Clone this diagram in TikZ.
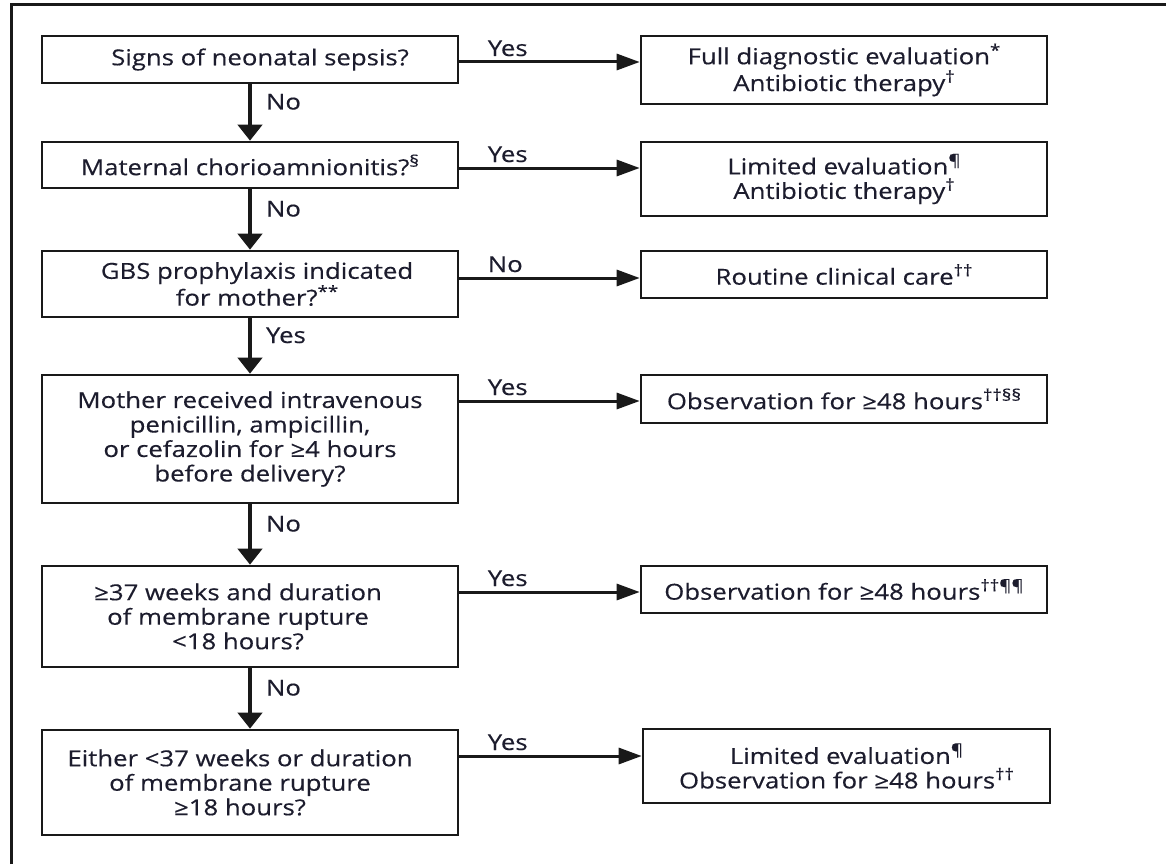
\documentclass[tikz,border=0pt]{standalone}
\usepackage{fontspec}
\setmainfont[FakeStretch=1.17,FakeBold=0.35]{Open Sans}
\usetikzlibrary{arrows.meta}
\definecolor{txt}{RGB}{28,28,45}
\newcommand{\sps}[1]{\raisebox{0.38em}{\fontsize{16}{16}\selectfont #1}}
\begin{document}
\begin{tikzpicture}[x=1pt,y=-1pt,
  every node/.style={font=\fontsize{22}{24.5}\selectfont, text=txt},
  qbox/.style={draw=black!90, line width=2.6pt, inner sep=0pt, align=center, minimum width=416pt},
  abox/.style={draw=black!90, line width=2.6pt, inner sep=0pt, align=center, minimum width=406pt},
  varr/.style={line width=4pt, draw=black!90, -{Triangle[length=16pt,width=24pt]}},
  harr/.style={line width=3pt, draw=black!90, -{Triangle[length=23pt,width=16pt]}},
  vlab/.style={anchor=base west, inner sep=0pt, xshift=14pt, yshift=3pt},
  hlab/.style={pos=0, anchor=base west, inner sep=0pt, xshift=27pt, yshift=6pt}]
\useasboundingbox (0,0) rectangle (1166,864);
\fill[white] (0,0) rectangle (1166,864);
% outer frame
\draw[line width=3pt, black!90] (11,864) -- (11,5) -- (1166,5);

% question boxes
\node[qbox, minimum height=47pt]  (q1) at (250,59.5) {\hspace*{20pt}Signs of neonatal sepsis?};
\node[qbox, minimum height=46pt]  (q2) at (250,165)  {Maternal chorioamnionitis?\sps{§}};
\node[qbox, minimum height=66pt]  (q3) at (250,284)  {\hspace*{14pt}GBS prophylaxis indicated\\\hspace*{14pt}for mother?\sps{**}};
\node[qbox, minimum height=128pt] (q4) at (250,439)  {Mother received intravenous\\penicillin, ampicillin,\\or cefazolin for ≥4 hours\\before delivery?};
\node[qbox, minimum height=101pt] (q5) at (250,616.5) {\hspace*{-24pt}≥37 weeks and duration\\\hspace*{-24pt}of membrane rupture\\\hspace*{-24pt}<18 hours?};
\node[qbox, minimum height=105pt] (q6) at (250,782.5) {\hspace*{-20pt}Either <37 weeks or duration\\\hspace*{-20pt}of membrane rupture\\\hspace*{-20pt}≥18 hours?};

% action boxes
\node[abox, minimum height=68pt] (a1) at (844,70)    {Full diagnostic evaluation\sps{*}\\Antibiotic therapy\sps{†}};
\node[abox, minimum height=74pt] (a2) at (844,179)   {Limited evaluation\sps{¶}\\Antibiotic therapy\sps{†}};
\node[abox, minimum height=47pt] (a3) at (844,274.5) {Routine clinical care\sps{††}};
\node[abox, minimum height=48pt] (a4) at (844,399)   {Observation for ≥48 hours\sps{††§§}};
\node[abox, minimum height=47pt] (a5) at (844,589.5) {Observation for ≥48 hours\sps{††¶¶}};
\node[abox, minimum height=74pt, minimum width=407pt] (a6) at (846.5,766) {Limited evaluation\sps{¶}\\Observation for ≥48 hours\sps{††}};

% row heights of horizontal connectors
\coordinate (r1) at (0,62);
\coordinate (r2) at (0,168);
\coordinate (r3) at (0,278);
\coordinate (r4) at (0,401);
\coordinate (r5) at (0,592);
\coordinate (r6) at (0,756);

% vertical connectors
\draw[varr] (q1.south) -- node[vlab]{No}  (q2.north);
\draw[varr] (q2.south) -- node[vlab]{No}  (q3.north);
\draw[varr] (q3.south) -- node[vlab]{Yes} (q4.north);
\draw[varr] (q4.south) -- node[vlab]{No}  (q5.north);
\draw[varr] (q5.south) -- node[vlab]{No}  (q6.north);

% horizontal connectors
\draw[harr] (q1.east |- r1) -- node[hlab]{Yes} (a1.west |- r1);
\draw[harr] (q2.east |- r2) -- node[hlab]{Yes} (a2.west |- r2);
\draw[harr] (q3.east |- r3) -- node[hlab]{No}  (a3.west |- r3);
\draw[harr] (q4.east |- r4) -- node[hlab]{Yes} (a4.west |- r4);
\draw[harr] (q5.east |- r5) -- node[hlab]{Yes} (a5.west |- r5);
\draw[harr] (q6.east |- r6) -- node[hlab]{Yes} (a6.west |- r6);
\end{tikzpicture}
\end{document}
